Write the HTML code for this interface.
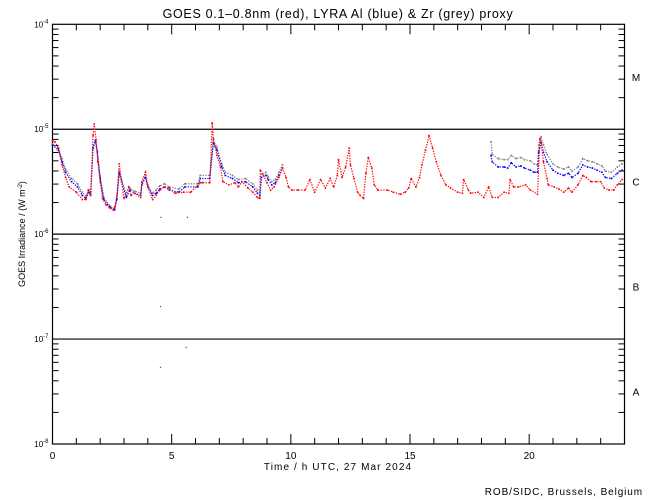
<!DOCTYPE html>
<html><head><meta charset="utf-8"><style>
body{margin:0;background:#fff}
svg{display:block;font-family:"Liberation Sans",sans-serif}
</style></head><body>
<svg id="chart" width="650" height="500" viewBox="0 0 650 500">
<text x="338" y="18" font-size="12.5" letter-spacing="0.7" text-anchor="middle">GOES 0.1–0.8nm (red), LYRA Al (blue) &amp; Zr (grey) proxy</text>
<text transform="translate(25,234) rotate(-90)" font-size="9" text-anchor="middle">GOES Irradiance / (W m<tspan dy="-3" font-size="6">-2</tspan><tspan dy="3">)</tspan></text>
<text x="338" y="470" font-size="10" letter-spacing="1.1" text-anchor="middle">Time / h UTC, 27 Mar 2024</text>
<text x="643" y="495" font-size="10" letter-spacing="0.9" text-anchor="end">ROB/SIDC, Brussels, Belgium</text>
<g id="axes"></g>
<g id="marks"></g>
</svg>
<script>
const xTicks=[0,5,10,15,20];
const yDecades=[-4,-5,-6,-7,-8];
const classLabels=["M","C","B","A"];
const classLevels=[-4.5,-5.5,-6.5,-7.5];
const redT=[0,0.1,0.25,0.4,0.55,0.7,1.0,1.25,1.4,1.5,1.6,1.7,1.75,1.83,1.9,2.0,2.1,2.25,2.4,2.55,2.62,2.7,2.8,2.9,3.0,3.2,3.3,3.45,3.7,3.75,3.9,4.0,4.2,4.35,4.5,4.7,4.9,5.15,5.5,5.8,6.2,6.3,6.6,6.7,6.75,6.9,7.05,7.15,7.4,7.65,7.8,7.95,8.2,8.4,8.6,8.7,8.72,8.85,9.0,9.15,9.3,9.5,9.65,9.8,9.9,10.05,10.3,10.6,10.8,11.0,11.25,11.45,11.65,11.8,11.95,12.0,12.15,12.3,12.45,12.5,12.65,12.8,12.9,13.05,13.15,13.25,13.4,13.5,13.65,14.05,14.3,14.6,14.8,14.95,15.05,15.25,15.4,15.5,15.65,15.8,15.95,16.1,16.3,16.5,16.7,17.0,17.2,17.25,17.45,17.55,17.85,18.1,18.3,18.45,18.7,18.95,19.15,19.2,19.35,19.55,19.85,20.05,20.35,20.45,20.5,20.6,20.75,20.8,21.05,21.25,21.45,21.65,21.8,22.05,22.25,22.4,22.6,22.8,23.0,23.15,23.35,23.55,23.7,23.9];
const redV=[-5.11,-5.12,-5.18,-5.34,-5.46,-5.55,-5.6,-5.67,-5.67,-5.58,-5.63,-5.06,-4.95,-5.1,-5.31,-5.5,-5.66,-5.72,-5.75,-5.77,-5.74,-5.63,-5.33,-5.5,-5.66,-5.55,-5.63,-5.61,-5.65,-5.5,-5.41,-5.55,-5.67,-5.63,-5.58,-5.55,-5.56,-5.61,-5.6,-5.6,-5.51,-5.51,-5.51,-4.94,-5.09,-5.25,-5.36,-5.5,-5.53,-5.51,-5.55,-5.5,-5.56,-5.6,-5.65,-5.66,-5.39,-5.44,-5.51,-5.58,-5.55,-5.46,-5.37,-5.46,-5.55,-5.58,-5.58,-5.58,-5.48,-5.6,-5.48,-5.56,-5.47,-5.55,-5.44,-5.29,-5.46,-5.36,-5.18,-5.34,-5.47,-5.6,-5.63,-5.66,-5.42,-5.27,-5.37,-5.53,-5.58,-5.58,-5.6,-5.62,-5.6,-5.56,-5.47,-5.55,-5.46,-5.34,-5.2,-5.06,-5.18,-5.31,-5.44,-5.53,-5.56,-5.6,-5.61,-5.48,-5.58,-5.61,-5.6,-5.65,-5.55,-5.65,-5.65,-5.6,-5.61,-5.48,-5.55,-5.55,-5.53,-5.58,-5.62,-5.09,-5.12,-5.31,-5.47,-5.53,-5.55,-5.57,-5.6,-5.56,-5.6,-5.53,-5.44,-5.46,-5.5,-5.5,-5.5,-5.56,-5.58,-5.58,-5.53,-5.48];
const redIsoT=[4.55,5.66,4.53,4.53,5.61];
const redIsoV=[-5.84,-5.84,-6.69,-7.27,-7.08];
const blueT=[0,0.25,0.4,0.55,0.8,1.05,1.25,1.4,1.53,1.6,1.7,1.8,1.88,2.0,2.15,2.4,2.6,2.7,2.8,2.9,3.1,3.25,3.45,3.7,3.75,3.9,4.0,4.2,4.35,4.5,4.7,4.9,5.3,5.55,6.1,6.2,6.6,6.75,6.9,7.1,7.25,7.55,7.8,8.1,8.4,8.6,8.7,8.77,8.95,9.05,9.2,9.35,9.5,9.65];
const blueV=[-5.15,-5.2,-5.31,-5.41,-5.5,-5.55,-5.63,-5.66,-5.6,-5.63,-5.18,-5.11,-5.22,-5.47,-5.67,-5.74,-5.77,-5.67,-5.42,-5.5,-5.65,-5.58,-5.61,-5.63,-5.53,-5.46,-5.55,-5.63,-5.61,-5.57,-5.55,-5.58,-5.6,-5.55,-5.55,-5.47,-5.47,-5.13,-5.2,-5.36,-5.44,-5.47,-5.51,-5.5,-5.55,-5.61,-5.63,-5.46,-5.44,-5.48,-5.53,-5.51,-5.44,-5.37];
const blue2T=[18.4,18.45,18.7,18.95,19.1,19.25,19.45,19.65,19.8,20.05,20.2,20.35,20.4,20.5,20.6,20.75,21.0,21.2,21.45,21.65,21.8,22.05,22.25,22.45,22.65,22.85,23.05,23.2,23.45,23.7,23.9];
const blue2V=[-5.25,-5.31,-5.36,-5.36,-5.37,-5.32,-5.36,-5.35,-5.37,-5.39,-5.41,-5.41,-5.22,-5.13,-5.22,-5.31,-5.39,-5.42,-5.44,-5.42,-5.46,-5.42,-5.34,-5.36,-5.37,-5.39,-5.41,-5.46,-5.47,-5.42,-5.39];
const greyT=[0,0.25,0.4,0.55,0.8,1.05,1.25,1.4,1.53,1.6,1.7,1.8,1.88,2.0,2.15,2.4,2.6,2.7,2.8,2.9,3.1,3.25,3.45,3.7,3.75,3.9,4.0,4.2,4.35,4.5,4.7,4.9,5.3,5.55,6.1,6.2,6.6,6.75,6.9,7.1,7.25,7.55,7.8,8.1,8.4,8.6,8.7,8.77,8.95,9.05,9.2,9.35,9.5,9.65];
const greyV=[-5.14,-5.18,-5.28,-5.38,-5.47,-5.52,-5.6,-5.64,-5.58,-5.61,-5.17,-5.1,-5.21,-5.45,-5.65,-5.73,-5.76,-5.66,-5.4,-5.48,-5.63,-5.56,-5.59,-5.61,-5.51,-5.44,-5.53,-5.61,-5.58,-5.54,-5.52,-5.55,-5.57,-5.52,-5.52,-5.44,-5.44,-5.11,-5.17,-5.33,-5.41,-5.44,-5.48,-5.47,-5.52,-5.58,-5.6,-5.43,-5.41,-5.45,-5.5,-5.48,-5.41,-5.34];
const grey2T=[18.4,18.45,18.7,18.95,19.1,19.25,19.45,19.65,19.8,20.05,20.2,20.35,20.4,20.5,20.6,20.75,21.0,21.2,21.45,21.65,21.8,22.05,22.25,22.45,22.65,22.85,23.05,23.2,23.45,23.7,23.9];
const grey2V=[-5.12,-5.24,-5.28,-5.29,-5.29,-5.25,-5.28,-5.27,-5.29,-5.3,-5.33,-5.34,-5.15,-5.07,-5.15,-5.24,-5.33,-5.36,-5.38,-5.36,-5.4,-5.36,-5.28,-5.3,-5.31,-5.33,-5.35,-5.4,-5.41,-5.36,-5.33];

const X0=52.5,X1=624.5,Y0=24.3,Y1=444;
function xs(h){return X0+(X1-X0)*h/24;}
function ys(l){return Y0+(Y1-Y0)*(-4-l)/4;}
const NS="http://www.w3.org/2000/svg";
function mk(tag,attrs,parent){const e=document.createElementNS(NS,tag);for(const k in attrs)e.setAttribute(k,attrs[k]);parent.appendChild(e);return e;}
const axes=document.getElementById('axes'),marks=document.getElementById('marks');
const frame=mk('rect',{x:X0,y:Y0,width:X1-X0,height:Y1-Y0,fill:'none',stroke:'#000','stroke-width':1.2},axes);


yDecades.forEach(d=>{
  const y=ys(d);
  if(d>-8&&d<-4){const g=mk('line',{x1:X0,x2:X1,y1:y,y2:y,stroke:'#000','stroke-width':1.2},axes);
  
  }
  const t=mk('text',{x:X0-4,y:y+3,'font-size':8,'text-anchor':'end'},axes);
  
  
  t.innerHTML='10<tspan dy="-4" font-size="6">'+d+'</tspan>';
  if(d>-8){for(let m=2;m<=9;m++){const yy=ys(d-1+Math.log10(m));
    mk('line',{x1:X0,x2:X0+6,y1:yy,y2:yy,stroke:'#000'},axes);
    mk('line',{x1:X1-6,x2:X1,y1:yy,y2:yy,stroke:'#000'},axes);}}
});
for(let h=0;h<=24;h++){const x=xs(h),len=(h%5==0)?10:6;
  mk('line',{x1:x,x2:x,y1:Y1,y2:Y1-len,stroke:'#000'},axes);
  mk('line',{x1:x,x2:x,y1:Y0,y2:Y0+len,stroke:'#000'},axes);}
xTicks.forEach(h=>{const t=mk('text',{x:xs(h),y:Y1+15,'font-size':10,'text-anchor':'middle'},axes);
  
  
  t.textContent=h;});
classLabels.forEach((c,i)=>{const t=mk('text',{x:636,y:ys(classLevels[i])+4,'font-size':10,'text-anchor':'middle'},axes);
  
  
  t.textContent=c;});
function series(T,V,color,name){
  const g=mk('g',{},marks);
  
  
  mk('polyline',{points:T.map((t,i)=>xs(t)+','+ys(V[i])).join(' '),fill:'none',stroke:color,'stroke-width':1.2,'stroke-dasharray':'1.3 1.3'},g);
  T.forEach((t,i)=>mk('rect',{x:xs(t)-0.8,y:ys(V[i])-0.8,width:1.6,height:1.6,fill:color},g));
}
series(greyT,greyV,'#808080','zr-series');
series(grey2T,grey2V,'#808080','zr-series-late');
series(blueT,blueV,'#0000ff','al-series');
series(blue2T,blue2V,'#0000ff','al-series-late');
series(redT,redV,'#ff0000','goes-series');
redIsoT.forEach((t,i)=>{const r=mk('rect',{x:xs(t)-0.6,y:ys(redIsoV[i])-0.6,width:1.2,height:1.2,fill:'#ff0000'},marks);
  
  });
</script>
</body></html>
